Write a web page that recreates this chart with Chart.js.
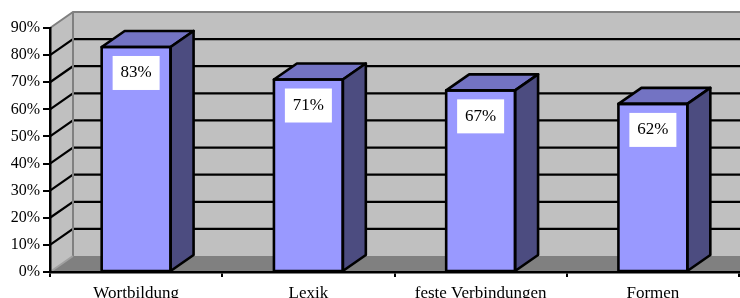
<!DOCTYPE html>
<html>
<head>
<meta charset="utf-8">
<script src="https://cdn.jsdelivr.net/npm/chart.js@4/dist/chart.umd.min.js"></script>
<style>
html,body{margin:0;padding:0;background:#fff;}
canvas{display:block;}
</style>
</head>
<body>
<canvas id="c" width="740" height="298"></canvas>
<script>
const categories = ['Wortbildung', 'Lexik', 'feste Verbindungen', 'Formen'];
const values = [83, 71, 67, 62];
const yTicks = [0, 10, 20, 30, 40, 50, 60, 70, 80, 90];

const DX = 23, DY = 16;
const FONT = '"Liberation Serif", "Times New Roman", serif';

const walls3d = {
  id: 'walls3d',
  beforeDraw(chart) {
    const ctx = chart.ctx;
    const a = chart.chartArea;
    const ys = chart.scales.y;
    const yTop = ys.getPixelForValue(yTicks[yTicks.length - 1]);
    const yBot = ys.getPixelForValue(yTicks[0]);
    const L = a.left, R = a.right;
    ctx.save();
    ctx.fillStyle = '#C0C0C0';
    ctx.beginPath();
    ctx.moveTo(L, yTop); ctx.lineTo(L + DX, yTop - DY); ctx.lineTo(L + DX, yBot - DY); ctx.lineTo(L, yBot);
    ctx.closePath(); ctx.fill();
    ctx.fillRect(L + DX, yTop - DY, R + DX - (L + DX) + 10, yBot - yTop);
    ctx.fillStyle = '#808080';
    ctx.beginPath();
    ctx.moveTo(L, yBot); ctx.lineTo(L + DX, yBot - DY); ctx.lineTo(R + DX + 10, yBot - DY); ctx.lineTo(R + 10, yBot);
    ctx.closePath(); ctx.fill();
    ctx.lineWidth = 2.2;
    ctx.strokeStyle = '#000';
    yTicks.forEach(v => {
      if (v === yTicks[0] || v === yTicks[yTicks.length - 1]) return;
      const y = ys.getPixelForValue(v);
      ctx.beginPath();
      ctx.moveTo(L, y); ctx.lineTo(L + DX, y - DY); ctx.lineTo(R + DX + 10, y - DY);
      ctx.stroke();
    });
    ctx.lineWidth = 2;
    ctx.strokeStyle = '#808080';
    ctx.beginPath();
    ctx.moveTo(L, yTop); ctx.lineTo(L + DX, yTop - DY); ctx.lineTo(R + DX + 10, yTop - DY);
    ctx.moveTo(L + DX, yTop - DY); ctx.lineTo(L + DX, yBot - DY);
    ctx.stroke();
    ctx.strokeStyle = '#A0A0A0';
    ctx.beginPath();
    ctx.moveTo(L, yBot); ctx.lineTo(L + DX, yBot - DY);
    ctx.stroke();
    ctx.restore();
  },
  afterDatasetsDraw(chart) {
    const ctx = chart.ctx;
    const meta = chart.getDatasetMeta(0);
    ctx.save();
    ctx.lineWidth = 2.6;
    ctx.lineJoin = 'round';
    ctx.strokeStyle = '#000';
    meta.data.forEach((bar, i) => {
      const p = bar.getProps(['x', 'y', 'base', 'width'], true);
      const l = p.x - p.width / 2, r = p.x + p.width / 2;
      ctx.fillStyle = '#7373C3';
      ctx.beginPath();
      ctx.moveTo(l, p.y); ctx.lineTo(l + DX, p.y - DY); ctx.lineTo(r + DX, p.y - DY); ctx.lineTo(r, p.y);
      ctx.closePath(); ctx.fill(); ctx.stroke();
      ctx.fillStyle = '#4C4C80';
      ctx.beginPath();
      ctx.moveTo(r, p.y); ctx.lineTo(r + DX, p.y - DY); ctx.lineTo(r + DX, p.base - DY); ctx.lineTo(r, p.base);
      ctx.closePath(); ctx.fill(); ctx.stroke();
      ctx.strokeRect(l, p.y, p.width, p.base - p.y);
      const bw = 47, bh = 34;
      ctx.fillStyle = '#FFFFFF';
      ctx.fillRect(p.x - bw / 2, p.y + 9, bw, bh);
      ctx.fillStyle = '#000';
      ctx.font = '17px ' + FONT;
      ctx.textAlign = 'center';
      ctx.textBaseline = 'middle';
      ctx.fillText(values[i] + '%', p.x, p.y + 26);
    });
    ctx.restore();
  }
};

new Chart(document.getElementById('c'), {
  type: 'bar',
  data: {
    labels: categories,
    datasets: [{
      data: values,
      backgroundColor: '#9999FF',
      borderColor: '#000',
      borderWidth: 0,
      categoryPercentage: 1.0,
      barPercentage: 0.4
    }]
  },
  options: {
    responsive: false,
    devicePixelRatio: 1,
    animation: false,
    layout: { padding: { top: 28, right: 1, left: 0, bottom: 0 } },
    plugins: { legend: { display: false }, tooltip: { enabled: false } },
    scales: {
      x: {
        afterFit(s) { s.height = 26; },
        grid: { drawOnChartArea: false, drawTicks: true, tickLength: 5, color: '#000', lineWidth: 2, offset: true },
        border: { display: true, color: '#000', width: 2.5 },
        ticks: { autoSkip: false, maxRotation: 0, minRotation: 0, padding: 6, color: '#000', font: { family: FONT, size: 17 } }
      },
      y: {
        min: 0, max: 90,
        afterFit(s) { s.width = 50; },
        afterBuildTicks(s) { s.ticks = yTicks.map(v => ({ value: v })); },
        grid: { drawOnChartArea: false, drawTicks: true, tickLength: 7, color: '#000', lineWidth: 2 },
        border: { display: true, color: '#000', width: 2.5 },
        ticks: { padding: 3, color: '#000', font: { family: FONT, size: 16 }, callback: v => v + '%' }
      }
    }
  },
  plugins: [walls3d]
});
</script>
</body>
</html>
